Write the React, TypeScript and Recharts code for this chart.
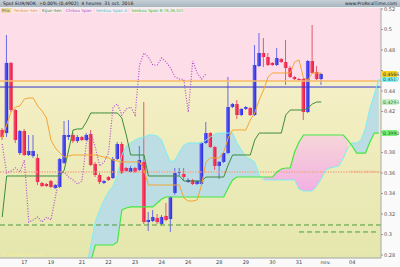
import React from 'react';
import {
  ComposedChart, Bar, Line, Area, XAxis, YAxis, CartesianGrid, ReferenceLine, ReferenceArea,
} from 'recharts';

// 4h candles, EUR/NOK-style quote
const opens = [
  0.4020, 0.3990, 0.4674, 0.4215, 0.3795, 0.4010, 0.3776, 0.3766, 0.3747, 0.3503,
  0.3493, 0.3522, 0.3454, 0.3464, 0.3698, 0.3951, 0.3971, 0.3912, 0.3951, 0.3922,
  0.3981, 0.3688, 0.3581, 0.3503, 0.3561, 0.3551, 0.3737, 0.3883, 0.3649, 0.3610,
  0.3649, 0.3630, 0.3708, 0.3122, 0.3132, 0.3161, 0.3103, 0.3181, 0.3151, 0.3405,
  0.3600, 0.3591, 0.3512, 0.3532, 0.3493, 0.3493, 0.3893, 0.3990, 0.3854, 0.3669,
  0.3708, 0.3795, 0.4244, 0.4273, 0.4166, 0.4225, 0.4234, 0.4166, 0.4644, 0.4771,
  0.4732, 0.4674, 0.4654, 0.4712, 0.4683, 0.4625, 0.4537, 0.4517, 0.4517, 0.4195,
  0.4693, 0.4586, 0.4517,
];
const highs = [
  0.4039, 0.4947, 0.4683, 0.4225, 0.4020, 0.4030, 0.3971, 0.3971, 0.3786, 0.3512,
  0.3503, 0.3532, 0.3493, 0.3747, 0.4107, 0.4117, 0.3990, 0.3971, 0.3961, 0.3990,
  0.4020, 0.3708, 0.3600, 0.3532, 0.3571, 0.3757, 0.3903, 0.3903, 0.3659, 0.3669,
  0.3659, 0.3864, 0.4293, 0.3220, 0.3239, 0.3200, 0.3190, 0.3308, 0.3376, 0.3649,
  0.3649, 0.3649, 0.3551, 0.3542, 0.3532, 0.3903, 0.4098, 0.4000, 0.3864, 0.3717,
  0.3805, 0.4537, 0.4283, 0.4312, 0.4234, 0.4254, 0.4244, 0.4849, 0.4966, 0.4917,
  0.4771, 0.4683, 0.4820, 0.4722, 0.4898, 0.4644, 0.4546, 0.4527, 0.4527, 0.4703,
  0.5044, 0.4644, 0.4576,
];
const lows = [
  0.3922, 0.3951, 0.4195, 0.3893, 0.3776, 0.3766, 0.3766, 0.3747, 0.3483, 0.3464,
  0.3464, 0.3454, 0.3444, 0.3454, 0.3688, 0.3922, 0.3893, 0.3893, 0.3912, 0.3912,
  0.3669, 0.3561, 0.3493, 0.3493, 0.3522, 0.3542, 0.3727, 0.3591, 0.3610, 0.3600,
  0.3600, 0.3620, 0.3103, 0.3034, 0.3122, 0.3103, 0.3093, 0.3132, 0.3025, 0.3386,
  0.3571, 0.3532, 0.3503, 0.3483, 0.3483, 0.3483, 0.3883, 0.3844, 0.3630, 0.3542,
  0.3698, 0.3786, 0.4234, 0.4127, 0.4156, 0.4215, 0.4156, 0.4156, 0.4634, 0.4634,
  0.4644, 0.4644, 0.4644, 0.4674, 0.4459, 0.4527, 0.4507, 0.4507, 0.4117, 0.4185,
  0.4566, 0.4507, 0.4459,
];
const closes = [
  0.3951, 0.4674, 0.4215, 0.3922, 0.4010, 0.3776, 0.3815, 0.3815, 0.3512, 0.3473,
  0.3473, 0.3464, 0.3483, 0.3737, 0.3971, 0.3971, 0.3912, 0.3951, 0.3922, 0.3971,
  0.3678, 0.3581, 0.3512, 0.3522, 0.3532, 0.3737, 0.3883, 0.3600, 0.3620, 0.3649,
  0.3610, 0.3727, 0.3122, 0.3142, 0.3171, 0.3122, 0.3171, 0.3142, 0.3366, 0.3600,
  0.3610, 0.3561, 0.3532, 0.3493, 0.3522, 0.3893, 0.3990, 0.3854, 0.3669, 0.3708,
  0.3795, 0.4244, 0.4273, 0.4166, 0.4225, 0.4244, 0.4166, 0.4654, 0.4771, 0.4732,
  0.4654, 0.4654, 0.4722, 0.4683, 0.4625, 0.4537, 0.4517, 0.4512, 0.4195, 0.4693,
  0.4576, 0.4517, 0.4566,
];

// Ichimoku lines
const tenkan = [
  0.3942, 0.4069, 0.4195, 0.4244, 0.4254, 0.4322, 0.4332, 0.4332, 0.4254, 0.4205,
  0.4137, 0.3922, 0.3844, 0.3795, 0.3756, 0.3766, 0.3776, 0.3776, 0.3776, 0.3776,
  0.3776, 0.3776, 0.3766, 0.3756, 0.3747, 0.3727, 0.3717, 0.3708, 0.3708, 0.3708,
  0.3708, 0.3708, 0.3630, 0.3483, 0.3483, 0.3483, 0.3483, 0.3483, 0.3483, 0.3483,
  0.3483, 0.3356, 0.3327, 0.3327, 0.3337, 0.3483, 0.3708, 0.3747, 0.3747, 0.3747,
  0.3805, 0.3942, 0.4020, 0.4020, 0.4020, 0.4020, 0.4117, 0.4186, 0.4312, 0.4410,
  0.4537, 0.4576, 0.4576, 0.4576, 0.4576, 0.4576, 0.4683, 0.4703, 0.4527, 0.4508,
  0.4576, 0.4576, 0.4576,
];
const kijun = [
  0.3171, 0.3571, 0.3571, 0.3571, 0.3571, 0.3571, 0.3571, 0.3571, 0.3571, 0.3571,
  0.3571, 0.3571, 0.3571, 0.3571, 0.3630, 0.3825, 0.4020, 0.4030, 0.4030, 0.4098,
  0.4186, 0.4186, 0.4186, 0.4186, 0.4186, 0.4186, 0.4186, 0.4137, 0.3971, 0.3776,
  0.3776, 0.3776, 0.3776, 0.3571, 0.3571, 0.3571, 0.3571, 0.3571, 0.3571, 0.3571,
  0.3571, 0.3522, 0.3522, 0.3522, 0.3522, 0.3522, 0.3561, 0.3561, 0.3561, 0.3561,
  0.3561, 0.3678, 0.3776, 0.3776, 0.3776, 0.3776, 0.3776, 0.3922, 0.3990, 0.3990,
  0.3990, 0.3990, 0.3990, 0.3990, 0.4166, 0.4215, 0.4215, 0.4215, 0.4215, 0.4234,
  0.4273, 0.4293, 0.4293,
];
// Senkou spans start at slot 19 and run past the last candle
const SPAN_START = 19;
const spanA = [
  0.2673, 0.2898, 0.3122, 0.3239, 0.3337, 0.3415, 0.3473, 0.3581, 0.3776, 0.3864,
  0.3893, 0.3922, 0.3942, 0.3951, 0.3971, 0.3971, 0.3961, 0.3922, 0.3805, 0.3708,
  0.3727, 0.3805, 0.3873, 0.3893, 0.3893, 0.3893, 0.3893, 0.3922, 0.3951, 0.3981,
  0.3990, 0.3990, 0.3990, 0.3990, 0.3893, 0.3825, 0.3756, 0.3737, 0.3708, 0.3581,
  0.3532, 0.3532, 0.3532, 0.3532, 0.3532, 0.3532, 0.3532, 0.3532, 0.3444, 0.3425,
  0.3425, 0.3425, 0.3473, 0.3542, 0.3630, 0.3649, 0.3659, 0.3669, 0.3747, 0.3844,
  0.3893, 0.3893, 0.3922, 0.4039, 0.4234, 0.4371, 0.4517,
];
const spanB = [
  0.2508, 0.2732, 0.2898, 0.2898, 0.2898, 0.2898, 0.2898, 0.2927, 0.3239, 0.3259,
  0.3269, 0.3269, 0.3269, 0.3269, 0.3269, 0.3269, 0.3308, 0.3347, 0.3366, 0.3366,
  0.3366, 0.3366, 0.3366, 0.3366, 0.3366, 0.3366, 0.3366, 0.3366, 0.3366, 0.3366,
  0.3366, 0.3366, 0.3454, 0.3532, 0.3561, 0.3561, 0.3561, 0.3561, 0.3561, 0.3561,
  0.3561, 0.3561, 0.3561, 0.3610, 0.3639, 0.3649, 0.3649, 0.3805, 0.3903, 0.3971,
  0.3971, 0.3971, 0.3971, 0.3971, 0.3971, 0.3971, 0.3971, 0.3971, 0.3971, 0.3922,
  0.3864, 0.3795, 0.3795, 0.3795, 0.3903, 0.3990, 0.3990,
];
const CHIKOU_SHIFT = 26;
const TOTAL_SLOTS = 86;

const dayTickIndex = [5, 11, 18, 24, 30, 36, 42, 49, 55, 61, 67, 73, 79];
const dayTickLabels = ['17', '19', '21', '22', '23', '24', '26', '28', '29', '30', '31', 'nov.', '04'];
const priceTicks = [0.28, 0.3, 0.32, 0.34, 0.36, 0.38, 0.4, 0.42, 0.44, 0.46, 0.48, 0.5, 0.52];
const Y_MIN = 0.2771;
const Y_MAX = 0.521;

// drawn levels
const orangeLevel = 0.4498;
const blueLevel = 0.4439;
const fibLevel = 0.3610;
const fibText = '0.3612 (85.58%)';
const dashLevel = 0.3093;
const dashLevel2 = 0.3025;
const dashLevel2From = 67;

const rows = Array.from({ length: TOTAL_SLOTS }, (_, i) => {
  const hasCandle = i < closes.length;
  const a = i >= SPAN_START ? spanA[i - SPAN_START] : null;
  const b = i >= SPAN_START ? spanB[i - SPAN_START] : null;
  return {
    i,
    range: hasCandle ? [lows[i], highs[i]] : null,
    open: hasCandle ? opens[i] : null,
    high: hasCandle ? highs[i] : null,
    low: hasCandle ? lows[i] : null,
    close: hasCandle ? closes[i] : null,
    tenkan: hasCandle ? tenkan[i] : null,
    kijun: hasCandle ? kijun[i] : null,
    chikou: i + CHIKOU_SHIFT < closes.length ? closes[i + CHIKOU_SHIFT] : null,
    spanA: a,
    spanB: b,
    blueCloud: a != null && b != null && a >= b ? [b, a] : null,
    pinkCloud: a != null && b != null && b > a ? [a, b] : null,
  };
});

const lastClose = closes[closes.length - 1];
const lastKijun = kijun[kijun.length - 1];
const lastA = spanA[spanA.length - 1];
const lastB = spanB[spanB.length - 1];
const badgeValues = [lastClose, lastKijun, lastA, lastB];

const Candle = (props: any) => {
  const { x, y, width, height, payload } = props;
  if (!payload || payload.range == null) return null;
  const { open, close, high, low } = payload;
  const top = Math.min(y, y + height);
  const h = Math.abs(height);
  const k = high - low > 0 ? h / (high - low) : 0;
  const cx = x + width / 2;
  const yo = top + (high - open) * k;
  const yc = top + (high - close) * k;
  const up = close >= open;
  const bw = 3.6;
  const bodyTop = Math.min(yo, yc);
  const bodyH = Math.max(1, Math.abs(yc - yo));
  return (
    <g>
      <line x1={cx} x2={cx} y1={top} y2={top + h} stroke={up ? '#6a6ae6' : '#e45a6c'} strokeWidth={1} />
      <rect x={cx - bw / 2} y={bodyTop} width={bw} height={bodyH} fill={up ? 'url(#upBody)' : 'url(#downBody)'} />
    </g>
  );
};

// tick labels under a value badge are covered in the original
const YTick = ({ x, y, payload }: any) => {
  if (badgeValues.some((v) => Math.abs(v - payload.value) < 0.005)) return null;
  return (
    <text x={x + 1} y={y} dy={1.8} fontSize={5} fill="#555" fontFamily="DejaVu Sans">
      {String(Number(payload.value.toFixed(2)))}
    </text>
  );
};

const XTick = ({ x, y, payload }: any) => {
  const k = dayTickIndex.indexOf(payload.value);
  if (k < 0) return null;
  return (
    <text x={x} y={y + 5.6} textAnchor="middle" fontSize={5} fill="#444" fontFamily="DejaVu Sans">
      {dayTickLabels[k]}
    </text>
  );
};

const badge = (bg: string, fg: string, value: number) => (props: any) => {
  const { viewBox } = props;
  const yy = viewBox.y;
  const xx = viewBox.x + viewBox.width;
  return (
    <g>
      <rect x={xx + 1} y={yy - 3} width={15} height={6} fill={bg} />
      <text x={xx + 2} y={yy + 1.8} fontSize={4.6} fill={fg} fontFamily="DejaVu Sans">{value.toFixed(4)}</text>
    </g>
  );
};

const FibLabel = (props: any) => {
  const { viewBox } = props;
  return (
    <text x={viewBox.x + viewBox.width - 2} y={viewBox.y + 1.3} textAnchor="end" fontSize={3.4} fill="#f0a27a" fontFamily="DejaVu Sans">
      {fibText}
    </text>
  );
};

const legendItems = [
  { t: 'Tenkan-Sen', c: '#e39a2a' },
  { t: 'Kijun-Sen', c: '#3c8c3c' },
  { t: 'Chikou Span', c: '#b050c8' },
  { t: 'Senkou Span A', c: '#3cc8d0' },
  { t: 'Senkou Span B (9,26,52)', c: '#30c030' },
];

export default function App() {
  return (
    <div style={{ position: 'absolute', left: 0, top: 0, width: 400, height: 267, background: '#fafafa', overflow: 'hidden', fontFamily: 'DejaVu Sans' }}>
      <ComposedChart width={400} height={267} data={rows} margin={{ top: 8, right: 0, bottom: 0, left: 0 }} barCategoryGap={0}>
        <defs>
          <linearGradient id="yellowBg" x1="0" y1="0" x2="0" y2="1">
            <stop offset="0%" stopColor="#f5efc6" />
            <stop offset="100%" stopColor="#e4e7ad" />
          </linearGradient>
          <linearGradient id="pinkCloud" x1="0" y1="0" x2="0" y2="1">
            <stop offset="0%" stopColor="#f6d6d8" />
            <stop offset="100%" stopColor="#f2b0e2" />
          </linearGradient>
          <linearGradient id="upBody" x1="0" y1="0" x2="1" y2="0">
            <stop offset="0%" stopColor="#6a6af8" />
            <stop offset="100%" stopColor="#2626dc" />
          </linearGradient>
          <linearGradient id="downBody" x1="0" y1="0" x2="1" y2="0">
            <stop offset="0%" stopColor="#ff5a78" />
            <stop offset="100%" stopColor="#e2133c" />
          </linearGradient>
        </defs>
        <ReferenceArea y1={orangeLevel} y2={Y_MAX} fill="#fcdde8" fillOpacity={1} stroke="none" ifOverflow="hidden" />
        <ReferenceArea y1={Y_MIN} y2={orangeLevel} fill="url(#yellowBg)" fillOpacity={1} stroke="none" ifOverflow="hidden" />
        <CartesianGrid vertical={false} stroke="#000" strokeOpacity={0.07} />
        <XAxis dataKey="i" type="category" interval={0} tick={<XTick />} tickLine={false} tickSize={0} tickMargin={0} axisLine={{ stroke: '#a8a8a8' }} height={9} />
        <YAxis orientation="right" domain={[Y_MIN, Y_MAX]} allowDataOverflow ticks={priceTicks} interval={0} tick={<YTick />} tickSize={2} tickMargin={0} tickLine={{ stroke: '#999' }} axisLine={{ stroke: '#a8a8a8' }} width={19} />
        <Area dataKey="blueCloud" type="linear" fill="#bcdde3" fillOpacity={1} stroke="none" isAnimationActive={false} connectNulls={false} />
        <Area dataKey="pinkCloud" type="linear" fill="url(#pinkCloud)" fillOpacity={1} stroke="none" isAnimationActive={false} connectNulls={false} />
        <ReferenceLine y={orangeLevel} stroke="#f9b866" strokeWidth={1.5} />
        <ReferenceLine y={blueLevel} stroke="#3434d0" strokeWidth={1} />
        <ReferenceLine y={fibLevel} stroke="#f2a888" strokeWidth={1.3} strokeDasharray="1.3 1.3" label={<FibLabel />} />
        <ReferenceLine y={dashLevel} stroke="#4c9a3c" strokeWidth={1} strokeDasharray="5 3" />
        <ReferenceLine segment={[{ x: dashLevel2From, y: dashLevel2 }, { x: TOTAL_SLOTS - 1, y: dashLevel2 }]} stroke="#3ca03c" strokeWidth={1} strokeDasharray="5 3" />
        <Line dataKey="spanA" type="linear" stroke="#7eeef0" strokeWidth={1} dot={false} isAnimationActive={false} />
        <Line dataKey="spanB" type="linear" stroke="#42e842" strokeWidth={1.2} dot={false} isAnimationActive={false} />
        <Line dataKey="kijun" type="linear" stroke="#3c8c3c" strokeWidth={1} dot={false} isAnimationActive={false} />
        <Line dataKey="tenkan" type="linear" stroke="#f6a531" strokeWidth={1} dot={false} isAnimationActive={false} />
        <Line dataKey="chikou" type="linear" stroke="#b44cd0" strokeWidth={1.2} strokeDasharray="1 1.6" dot={false} isAnimationActive={false} />
        <Bar dataKey="range" shape={<Candle />} isAnimationActive={false} />
        <ReferenceLine y={lastB} stroke="none" label={badge('#78f078', '#1a5a1a', lastB)} />
        <ReferenceLine y={lastKijun} stroke="none" label={badge('#c8efc8', '#2a7a2a', lastKijun)} />
        <ReferenceLine y={lastA} stroke="none" label={badge('#86f0f0', '#1a5a6a', lastA)} />
        <ReferenceLine y={lastClose} stroke="none" label={badge('#f2d020', '#333', lastClose)} />
      </ComposedChart>
      <div style={{ position: 'absolute', left: 0, top: 0, width: 400, height: 7, background: 'linear-gradient(#c6cfd6, #a9b5bf)' }} />
      <div style={{ position: 'absolute', left: 3, top: 0.5, fontSize: 4.6, lineHeight: '6px', color: '#1a1a2a', whiteSpace: 'nowrap' }}>
        Spot EUR/NOK &nbsp;+0,00% (0,4902) &nbsp;4 heures &nbsp;31 oct. 2016
      </div>
      <div style={{ position: 'absolute', right: 3, top: 0.5, fontSize: 4.6, lineHeight: '6px', color: '#1a1a2a', whiteSpace: 'nowrap' }}>
        www.ProRealTime.com
      </div>
      <div style={{ position: 'absolute', left: 1, top: 7.5, display: 'flex', gap: 2, fontSize: 4.2, lineHeight: '5px', whiteSpace: 'nowrap' }}>
        <span style={{ background: '#e8dca0', color: '#555', padding: '0 1px' }}>Prix</span>
        {legendItems.map((it) => (
          <span key={it.t} style={{ color: it.c, background: 'rgba(255,255,255,0.35)', padding: '0 1px' }}>{it.t}</span>
        ))}
      </div>
      <div style={{ position: 'absolute', left: 2, top: 252, fontSize: 4.2, color: '#f6ee9a', whiteSpace: 'nowrap' }}>
        © ProRealTime.com
      </div>
    </div>
  );
}
